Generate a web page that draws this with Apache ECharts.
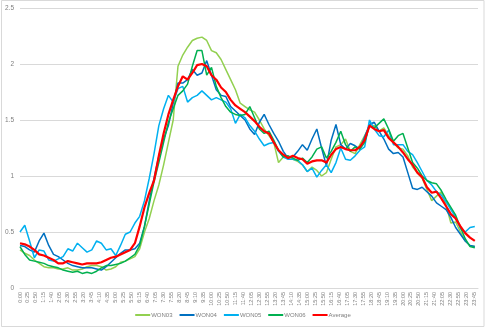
<!DOCTYPE html>
<html>
<head>
<meta charset="utf-8">
<script src="https://cdn.jsdelivr.net/npm/echarts@6/dist/echarts.min.js"></script>
<style>
  html, body { margin: 0; padding: 0; background: #fff; }
  #chart { width: 486px; height: 328px; }
</style>
</head>
<body>
<div id="chart"></div>
<script>
// Sample times in minutes after midnight (15-minute steps)
const stepMinutes = 15;
const sampleCount = 96;
const times = Array.from({ length: sampleCount }, (_, i) => i * stepMinutes);

// Axis tick settings
const xTickMinutes = 25;
const xMaxMinutes = 1435;
const yTicks = [0, 0.5, 1, 1.5, 2, 2.5];

const seriesNames = ['WON03', 'WON04', 'WON05', 'WON06', 'Average'];
const seriesColors = ['#92D050', '#0070C0', '#00B0F0', '#00B050', '#FF0000'];

const won03 = [
  0.34, 0.31, 0.29, 0.25, 0.22, 0.19, 0.18, 0.18, 0.17, 0.17, 0.18, 0.16,
  0.16, 0.17, 0.19, 0.20, 0.20, 0.19, 0.16, 0.17, 0.19, 0.23, 0.24, 0.26,
  0.28, 0.35, 0.50, 0.62, 0.78, 0.92, 1.10, 1.30, 1.50, 1.98, 2.08, 2.15,
  2.21, 2.23, 2.24, 2.21, 2.12, 2.10, 2.04, 1.95, 1.86, 1.77, 1.65, 1.62,
  1.59, 1.57, 1.50, 1.42, 1.36, 1.30, 1.12, 1.17, 1.18, 1.15, 1.13, 1.10,
  1.04, 1.08, 1.05, 1.00, 1.03, 1.15, 1.26, 1.28, 1.33, 1.22, 1.20, 1.28,
  1.36, 1.44, 1.45, 1.40, 1.43, 1.36, 1.30, 1.25, 1.24, 1.18, 1.08, 1.03,
  0.98, 0.88, 0.78, 0.82, 0.86, 0.74, 0.58, 0.59, 0.50, 0.42, 0.38, 0.37
];
const won04 = [
  0.38, 0.37, 0.34, 0.32, 0.42, 0.49, 0.38, 0.30, 0.28, 0.25, 0.22, 0.20,
  0.19, 0.18, 0.18, 0.18, 0.17, 0.16, 0.19, 0.23, 0.27, 0.31, 0.34, 0.34,
  0.35, 0.40, 0.55, 0.78, 0.98, 1.18, 1.33, 1.45, 1.65, 1.83, 1.83, 1.86,
  1.95, 1.90, 1.92, 2.03, 1.90, 1.77, 1.72, 1.71, 1.62, 1.58, 1.54, 1.50,
  1.42, 1.37, 1.48, 1.55, 1.46, 1.38, 1.31, 1.22, 1.16, 1.17, 1.22, 1.28,
  1.23, 1.33, 1.42, 1.25, 1.09, 1.32, 1.46, 1.28, 1.24, 1.29, 1.27, 1.24,
  1.35, 1.46, 1.48, 1.40, 1.33, 1.24, 1.20, 1.21, 1.17, 1.03, 0.89, 0.88,
  0.90, 0.86, 0.82, 0.76, 0.73, 0.70, 0.63, 0.54, 0.48, 0.42, 0.38, 0.37
];
const won05 = [
  0.50, 0.56, 0.42, 0.27, 0.34, 0.33, 0.25, 0.24, 0.26, 0.28, 0.35, 0.33,
  0.40, 0.36, 0.32, 0.34, 0.42, 0.40, 0.34, 0.35, 0.29, 0.38, 0.48, 0.50,
  0.58, 0.64, 0.78, 0.98, 1.20, 1.45, 1.60, 1.72, 1.66, 1.78, 1.80, 1.66,
  1.70, 1.72, 1.76, 1.72, 1.68, 1.70, 1.68, 1.66, 1.60, 1.47, 1.55, 1.52,
  1.45, 1.40, 1.33, 1.27, 1.29, 1.30, 1.22, 1.17, 1.15, 1.15, 1.14, 1.10,
  1.04, 1.07, 0.99, 1.05, 1.10, 1.03, 1.12, 1.25, 1.15, 1.14, 1.18, 1.23,
  1.26, 1.50, 1.42, 1.36, 1.35, 1.41, 1.28, 1.28, 1.28, 1.22, 1.19, 1.12,
  1.04, 0.96, 0.92, 0.86, 0.83, 0.77, 0.70, 0.63, 0.53, 0.50, 0.54, 0.55
];
const won06 = [
  0.37, 0.30, 0.25, 0.24, 0.23, 0.22, 0.20, 0.19, 0.18, 0.16, 0.15, 0.14,
  0.15, 0.13, 0.14, 0.13, 0.15, 0.18, 0.20, 0.20, 0.21, 0.22, 0.24, 0.27,
  0.30, 0.38, 0.55, 0.75, 0.95, 1.12, 1.30, 1.48, 1.60, 1.72, 1.76, 1.82,
  1.98, 2.12, 2.12, 1.90, 1.97, 1.80, 1.70, 1.62, 1.57, 1.55, 1.54, 1.55,
  1.62, 1.52, 1.42, 1.38, 1.40, 1.32, 1.23, 1.17, 1.18, 1.16, 1.14, 1.16,
  1.12, 1.17, 1.24, 1.26, 1.16, 1.22, 1.30, 1.40, 1.28, 1.22, 1.26, 1.24,
  1.30, 1.45, 1.43, 1.47, 1.51, 1.42, 1.31, 1.36, 1.38, 1.25, 1.12, 1.07,
  1.00, 0.96, 0.94, 0.93, 0.87, 0.79, 0.72, 0.65, 0.54, 0.44, 0.37, 0.36
];
const average = [
  0.40, 0.39, 0.37, 0.34, 0.30, 0.29, 0.27, 0.25, 0.22, 0.22, 0.24, 0.23,
  0.22, 0.21, 0.22, 0.22, 0.22, 0.23, 0.25, 0.27, 0.28, 0.30, 0.32, 0.34,
  0.40, 0.55, 0.72, 0.85, 0.96, 1.18, 1.38, 1.55, 1.68, 1.80, 1.89, 1.86,
  1.92, 1.99, 2.00, 1.98, 1.90, 1.86, 1.79, 1.75, 1.68, 1.63, 1.60, 1.57,
  1.53, 1.49, 1.44, 1.40, 1.38, 1.30, 1.23, 1.19, 1.16, 1.18, 1.16, 1.15,
  1.11, 1.13, 1.14, 1.14, 1.12, 1.19, 1.24, 1.26, 1.24, 1.23, 1.23, 1.26,
  1.32, 1.45, 1.42, 1.40, 1.41, 1.34, 1.30, 1.26, 1.21, 1.15, 1.10, 1.03,
  0.99, 0.90, 0.85, 0.86, 0.80, 0.73, 0.66, 0.62, 0.55, 0.49, 0.45, 0.42
];

const seriesValues = [won03, won04, won05, won06, average];

function timeLabel(minutes) {
  const h = Math.floor(minutes / 60);
  const m = minutes % 60;
  return h + ':' + String(m).padStart(2, '0');
}

const textColor = '#7f7f7f';
const gridColor = '#d9d9d9';
const font = '"Liberation Sans", Arial, sans-serif';

const chart = echarts.init(document.getElementById('chart'), null, { renderer: 'canvas' });

chart.setOption({
  animation: false,
  backgroundColor: '#ffffff',
  textStyle: { fontFamily: font },
  graphic: [{
    type: 'rect',
    shape: { x: 1.5, y: 0.5, width: 482.5, height: 326 },
    style: { fill: 'none', stroke: gridColor, lineWidth: 1 },
    silent: true,
    z: -1
  }],
  grid: { left: 20, right: 8, top: 8, bottom: 40, containLabel: false },
  legend: {
    bottom: 5,
    left: 'center',
    icon: 'rect',
    itemWidth: 15,
    itemHeight: 2,
    itemGap: 7,
    textStyle: { color: textColor, fontSize: 6, fontFamily: font, padding: [0, 0, 0, -4] },
    data: seriesNames
  },
  xAxis: {
    type: 'value',
    min: 0,
    max: xMaxMinutes,
    interval: xTickMinutes,
    axisLine: { show: true, lineStyle: { color: gridColor, width: 1 } },
    axisTick: { show: false },
    splitLine: { show: false },
    axisLabel: {
      rotate: 90,
      fontSize: 5.5,
      color: textColor,
      margin: 4,
      showMaxLabel: false,
      formatter: v => timeLabel(v)
    }
  },
  yAxis: {
    type: 'value',
    min: yTicks[0],
    max: yTicks[yTicks.length - 1],
    interval: 0.5,
    axisLine: { show: false },
    axisTick: { show: false },
    splitLine: { lineStyle: { color: gridColor, width: 1 } },
    axisLabel: { fontSize: 6.5, color: textColor, margin: 6 }
  },
  series: seriesNames.map((name, k) => ({
    name,
    type: 'line',
    data: times.map((t, i) => [t, seriesValues[k][i]]),
    showSymbol: false,
    symbol: 'none',
    smooth: false,
    lineStyle: { color: seriesColors[k], width: name === 'Average' ? 2.2 : 1.5 },
    itemStyle: { color: seriesColors[k] },
    z: name === 'Average' ? 3 : 2
  }))
});
</script>
</body>
</html>
